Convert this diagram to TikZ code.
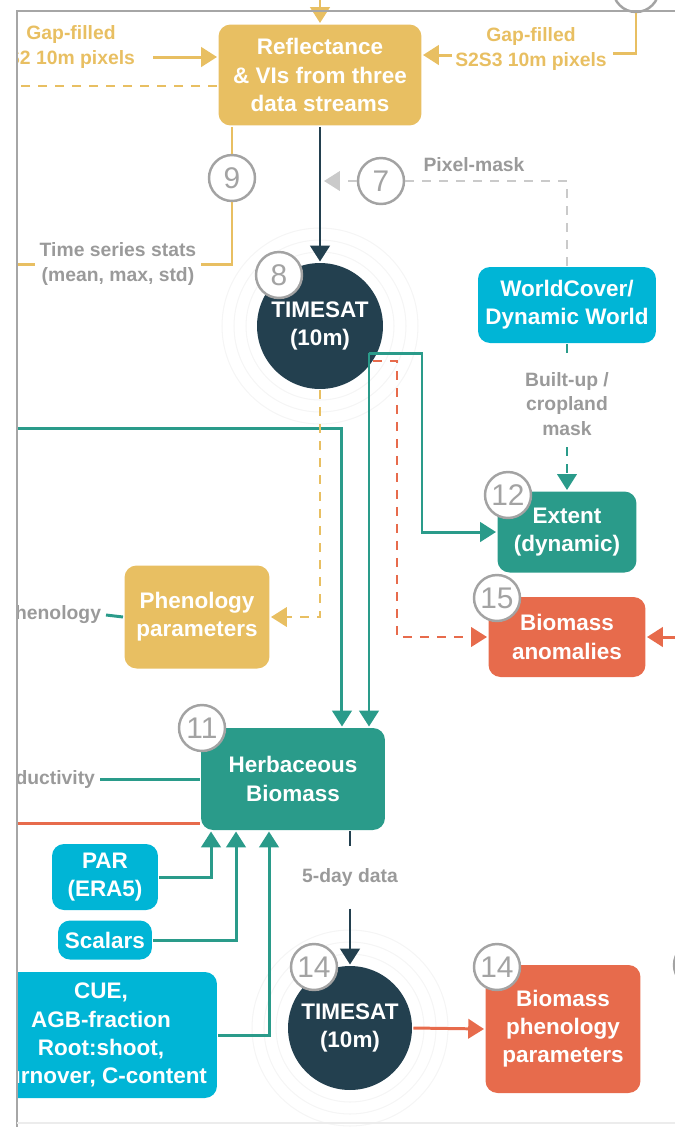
\documentclass[tikz,border=0pt]{standalone}
\usepackage{fontspec}
\setmainfont{Liberation Sans}
\usetikzlibrary{arrows.meta,positioning}

\definecolor{yel}{HTML}{E8BF62}
\definecolor{teal}{HTML}{2A9B8A}
\definecolor{cyan}{HTML}{00B5D6}
\definecolor{org}{HTML}{E76B4C}
\definecolor{dark}{HTML}{23404F}
\definecolor{bgray}{HTML}{A3A3A3}
\definecolor{lgray}{HTML}{9A9A9A}
\definecolor{mgray}{HTML}{CACACA}

\begin{document}
\begin{tikzpicture}[x=0.02cm, y=-0.02cm, >={Triangle[length=9pt,width=11pt]}, line width=1.7pt,
    box/.style={rounded corners=0.24cm, text=white, align=center, inner sep=0pt,
      font=\bfseries\fontsize{12.8}{16}\selectfont},
    ybox/.style={box, fill=yel},
    tbox/.style={box, fill=teal},
    cbox/.style={box, fill=cyan},
    obox/.style={box, fill=org},
    timesat/.style={circle, fill=dark, text=white, align=center, inner sep=0pt,
      font=\bfseries\fontsize{12.8}{16}\selectfont},
    badge/.style={circle, draw=bgray, line width=1.4pt, fill=white, text=bgray,
      minimum size=0.92cm, inner sep=0pt, font=\fontsize{17}{17}\selectfont},
    lbl/.style={text=lgray, align=center, inner sep=2pt,
      font=\bfseries\fontsize{11}{14}\selectfont},
    ylbl/.style={lbl, text=yel},
    ring/.style={draw=gray!8, line width=0.6pt},
    dashline/.style={line width=1.4pt, dash pattern=on 0.18cm off 0.16cm}]

  \useasboundingbox (0,0) rectangle (675,1127);
  \begin{scope}
    \clip (17,0) rectangle (675,1127);

    % faint rings
    \foreach \r in {1.48,1.72,1.96} {
      \draw[ring] (320,326) circle (\r cm);
      \draw[ring] (350,1028) circle (\r cm);
    }

    % boxes
    \node[ybox, minimum width=4.06cm, minimum height=2.02cm] (refl) at (320,75) {Reflectance\\\& VIs from three\\data streams};
    \node[timesat, minimum size=2.52cm] (tim8) at (320,326) {TIMESAT\\(10m)};
    \node[cbox, minimum width=3.56cm, minimum height=1.52cm] (wc) at (567,305) {WorldCover/\\Dynamic World};
    \node[tbox, minimum width=2.78cm, minimum height=1.62cm] (ext) at (567,532) {Extent\\(dynamic)};
    \node[ybox, minimum width=2.9cm, minimum height=2.06cm] (pheno) at (197,617) {Phenology\\parameters};
    \node[obox, minimum width=3.14cm, minimum height=1.6cm] (anom) at (567,637) {Biomass\\anomalies};
    \node[tbox, minimum width=3.68cm, minimum height=2.04cm] (herb) at (293,779) {Herbaceous\\Biomass};
    \node[cbox, minimum width=2.12cm, minimum height=1.32cm] (par) at (105,877) {PAR\\(ERA5)};
    \node[cbox, minimum width=1.88cm, minimum height=0.78cm] (scal) at (105,940) {Scalars};
    \node[cbox, minimum width=4.64cm, minimum height=2.52cm] (cue) at (101,1035) {CUE,\\AGB-fraction\\Root:shoot,\\Turnover, C-content};
    \node[timesat, minimum size=2.48cm] (tim14) at (350,1028) {TIMESAT\\(10m)};
    \node[obox, minimum width=3.1cm, minimum height=2.56cm] (bphen) at (563,1029) {Biomass\\phenology\\parameters};

    % labels
    \node[ylbl] (gapL) at (71,47) {Gap-filled\\S2 10m pixels};
    \node[ylbl] (gapR) at (531,49) {Gap-filled\\S2S3 10m pixels};
    \node[lbl] (pmask) at (474,165) {Pixel-mask};
    \node[lbl] (tss) at (118,264) {Time series stats\\(mean, max, std)};
    \node[lbl, inner ysep=0.2cm] (built) at (567,404) {Built-up /\\cropland\\mask};
    \node[lbl, anchor=east] (phen) at (106,615) {Phenology};
    \node[lbl, anchor=east] (prod) at (100,779) {Productivity};
    \node[lbl, minimum height=1.2cm] (fiveday) at (350,877) {5-day data};

    % step numbers
    \node[badge] (b9) at (232,178) {9};
    \node[badge] (b7) at (381,181) {7};
    \node[badge] (b8) at (279,275) {8};
    \node[badge] (b12) at (508,495) {12};
    \node[badge] (b15) at (497,598) {15};
    \node[badge] (b11) at (202,728) {11};
    \node[badge] (b14) at (314,967) {14};
    \node[badge] (b14b) at (497,967) {14};
    \node[badge] (btop) at (636,-11) {};
    \node[badge] (bright) at (697,965) {};

    % free ends
    \coordinate (topin) at (320,0);
    \coordinate (gl) at (153,57);
    \coordinate (gr) at (452,55);
    \coordinate (gr2) at (613,53);
    \coordinate (dl) at (17,86);
    \coordinate (pm) at (324,181);
    \coordinate (t8o) at (369,353);
    \coordinate (t8r) at (373,361);
    \coordinate (lt) at (17,428);
    \coordinate (lo) at (17,823);
    \coordinate (ar) at (676,637);

    % connectors
    \draw[yel, ->] (topin) -- (refl.north);
    \draw[yel, ->] (gl) -- (gl -| refl.west);
    \draw[yel, ->] (gr) -- (gr -| refl.east);
    \draw[yel] (gr2) -| (btop.south);
    \draw[yel, dashline] (refl.west |- dl) -- (dl);
    \draw[yel] (b9 |- refl.south) -- (b9.north);
    \draw[yel] (b9.south) |- (tss.east);
    \draw[yel] (tss.west) -- (tss.west -| dl);
    \draw[dark, ->] (refl.south) -- (tim8.north);
    \draw[mgray, dashline] (wc.north) |- (b7.east);
    \draw[mgray, dashline, ->] (b7.west) -- (pm);
    \draw[teal, ->] (t8o) -- ++(53,0) |- (ext.west);
    \draw[teal, ->] (t8o) -- (t8o |- herb.north);
    \draw[teal, ->] (lt) -| ([xshift=0.98cm]herb.north);
    \draw[org, dashline, ->] (t8r) -- ++(24,0) |- (anom.west);
    \draw[yel, dashline, ->] (tim8.south) |- (pheno.east);
    \draw[org, ->] (ar) -- (anom.east);
    \draw[teal, dashline] (wc.south) -- (built.north);
    \draw[teal, dashline, ->] (built.south) -- (ext.north);
    \draw[teal] (phen.east) -- (pheno.west);
    \draw[teal] (prod.east) -- (herb.west);
    \draw[org] (lo) -- (lo -| herb.west);
    \draw[teal, ->] (par.east) -| ([xshift=-1.64cm]herb.south);
    \draw[teal, ->] (scal.east) -| ([xshift=-1.14cm]herb.south);
    \draw[teal, ->] (cue.east) -| ([xshift=-0.48cm]herb.south);
    \draw[dark] (fiveday |- herb.south) -- (fiveday.north);
    \draw[dark, ->] (fiveday.south) -- (tim14.north);
    \draw[org, ->] (tim14.east) -- (bphen.west);
  \end{scope}

  % frame
  \draw[gray!70, line width=1pt] (17,1127) -- (17,11) -- (675,11);
  \draw[gray!15, line width=1pt] (17,1123) -- (675,1123);
\end{tikzpicture}
\end{document}
